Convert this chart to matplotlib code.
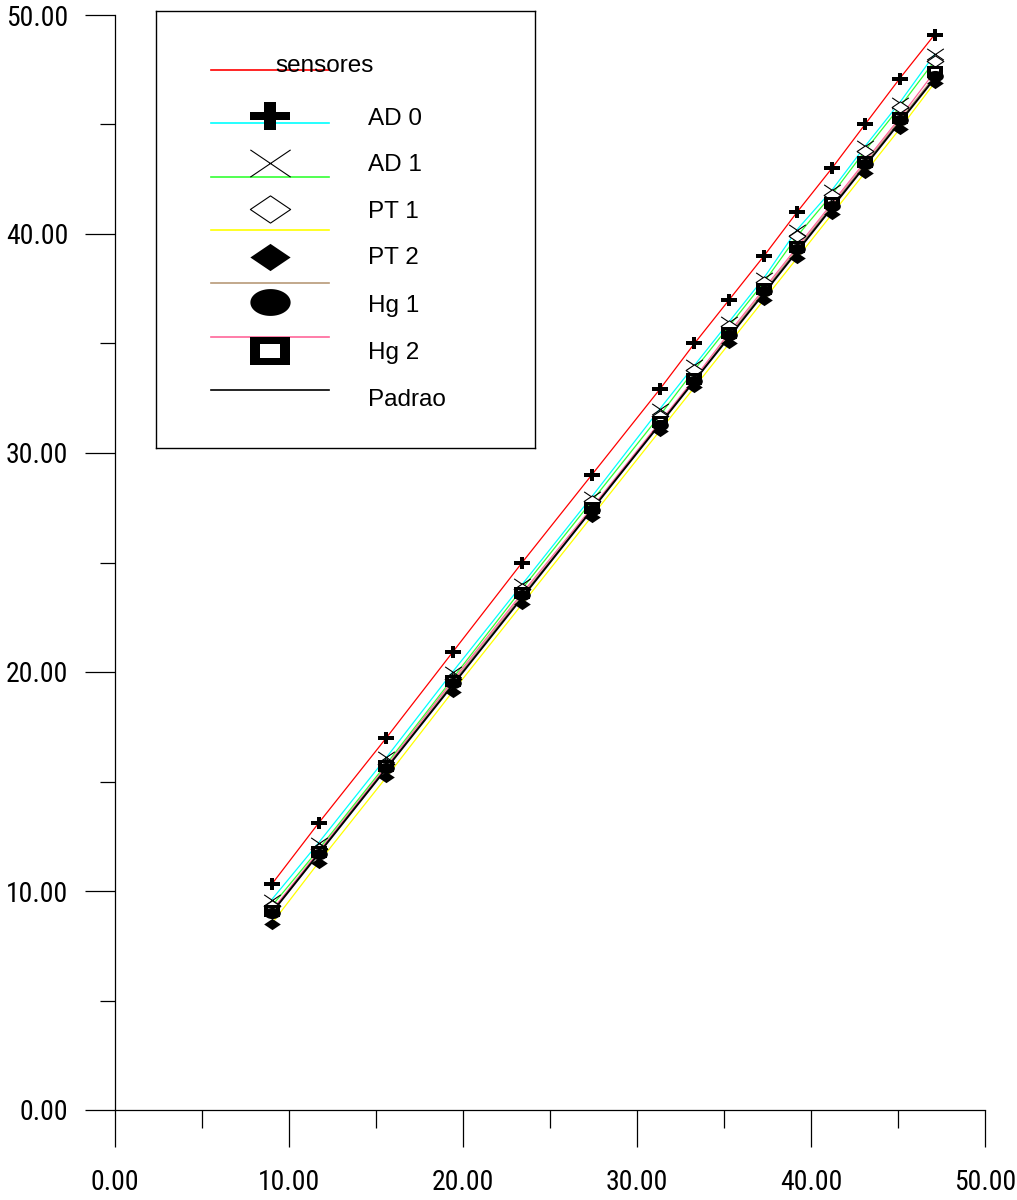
import numpy as np
import matplotlib
matplotlib.use("Agg")
from matplotlib import pyplot as plt
from matplotlib.path import Path
from matplotlib import font_manager

# readings of the reference (Padrao) and of each sensor
padrao = [9.0, 11.7, 15.6, 19.4, 23.4, 27.4, 31.3, 33.3, 35.3, 37.3, 39.2, 41.2, 43.1, 45.1, 47.1]
ad0 = [10.3, 13.1, 17.0, 20.9, 25.0, 29.0, 32.9, 35.0, 37.0, 39.0, 41.0, 43.0, 45.0, 47.1, 49.1]
ad1 = [9.6, 12.2, 16.1, 20.0, 24.0, 28.0, 32.0, 34.0, 36.0, 38.0, 40.2, 42.0, 44.0, 46.0, 48.2]
pt1 = [9.3, 11.9, 15.8, 19.7, 23.8, 27.8, 31.7, 33.8, 35.8, 37.8, 39.9, 41.8, 43.8, 45.8, 47.9]
pt2 = [8.5, 11.3, 15.2, 19.1, 23.1, 27.1, 31.0, 33.0, 35.0, 37.0, 38.9, 40.9, 42.8, 44.8, 46.9]
hg1 = [9.0, 11.7, 15.6, 19.5, 23.5, 27.4, 31.3, 33.3, 35.4, 37.4, 39.3, 41.3, 43.2, 45.2, 47.2]
hg2 = [9.1, 11.8, 15.7, 19.6, 23.6, 27.5, 31.4, 33.4, 35.5, 37.5, 39.4, 41.4, 43.3, 45.3, 47.4]

labels = ["AD 0", "AD 1", "PT 1", "PT 2", "Hg 1", "Hg 2", "Padrao"]
series = [ad0, ad1, pt1, pt2, hg1, hg2, padrao]
colors = ["#ff0000", "#00ffff", "#33ff33", "#ffff00", "#b89a78", "#ff6699", "#000000"]


def pick_font(names):
    for n in names:
        try:
            font_manager.findfont(n, fallback_to_default=False)
            return n
        except Exception:
            pass
    return "DejaVu Sans"


narrow = pick_font(["Liberation Sans Narrow", "Roboto Condensed", "DejaVu Sans"])
arial = pick_font(["Liberation Sans", "Arimo", "DejaVu Sans"])


# wide markers, like the old plotting program draws them (about 40 x 27)
def plus_marker():
    a, b = 0.71, 0.5    # half width / half height
    t, s = 0.15, 0.21   # half thickness of horizontal / vertical bar
    v = [(-a, -t), (-s, -t), (-s, -b), (s, -b), (s, -t), (a, -t), (a, t),
         (s, t), (s, b), (-s, b), (-s, t), (-a, t), (-a, -t)]
    return Path(v, closed=True)


def x_marker():
    a, b = 0.74, 0.5
    return Path([(-a, -b), (a, b), (-a, b), (a, -b)],
                [Path.MOVETO, Path.LINETO, Path.MOVETO, Path.LINETO])


def diamond_marker():
    a, b = 0.74, 0.5
    return Path([(-a, 0), (0, b), (a, 0), (0, -b), (-a, 0)], closed=True)


def ellipse_marker():
    t = np.linspace(0, 2 * np.pi, 60)
    return Path(np.column_stack([0.75 * np.cos(t), 0.5 * np.sin(t)]), closed=True)


def square_marker():
    a, b = 0.74, 0.5
    ia, ib = 0.35, 0.24
    outer = [(-a, -b), (a, -b), (a, b), (-a, b), (-a, -b)]
    inner = [(-ia, -ib), (-ia, ib), (ia, ib), (ia, -ib), (-ia, -ib)]
    codes = [Path.MOVETO] + [Path.LINETO] * 3 + [Path.CLOSEPOLY]
    return Path(outer + inner, codes * 2)


markers = [
    dict(marker=plus_marker(), mfc="black", mec="black", mew=0),
    dict(marker=x_marker(), mfc="none", mec="black", mew=0.8),
    dict(marker=diamond_marker(), mfc="white", mec="black", mew=0.8),
    dict(marker=diamond_marker(), mfc="black", mec="black", mew=0),
    dict(marker=ellipse_marker(), mfc="black", mec="black", mew=0),
    dict(marker=square_marker(), mfc="black", mec="black", mew=0),
    None,
]

figure = plt.figure(figsize=(10.17, 12), dpi=100)
ax = figure.add_axes([115 / 1017, 90 / 1200, 870 / 1017, 1095 / 1200])

for ys, c, m in zip(series, colors, markers):
    lw = 1.4 if c == "#000000" else 0.9
    ax.plot(padrao, ys, color=c, linewidth=lw, zorder=2)
    if m is not None:
        ax.plot(padrao, ys, linestyle="none", markersize=12, zorder=3, **m)

ax.set_xlim(0, 50)
ax.set_ylim(0, 50)
ax.spines["top"].set_visible(False)
ax.spines["right"].set_visible(False)
ax.spines["left"].set_linewidth(0.9)
ax.spines["bottom"].set_linewidth(0.9)
ax.set_xticks(np.arange(0, 51, 10))
ax.set_yticks(np.arange(0, 51, 10))
ax.set_xticks(np.arange(5, 50, 10), minor=True)
ax.set_yticks(np.arange(5, 50, 10), minor=True)
ax.set_xticklabels(["%.2f" % v for v in np.arange(0, 51, 10)])
ax.set_yticklabels(["%.2f" % v for v in np.arange(0, 51, 10)])
ax.tick_params(axis="x", which="major", direction="out", length=26.6, width=0.9, pad=16)
ax.tick_params(axis="x", which="minor", direction="out", length=13, width=0.9)
ax.tick_params(axis="y", which="major", direction="out", length=21.6, width=0.9, pad=12)
ax.tick_params(axis="y", which="minor", direction="out", length=10.8, width=0.9)
for lab in ax.get_xticklabels() + ax.get_yticklabels():
    lab.set_fontfamily(narrow)
    lab.set_fontsize(20)

# legend box drawn by hand, coordinates in pixels inside the box
leg = figure.add_axes([156 / 1017, 752 / 1200, 379 / 1017, 437 / 1200])
leg.set_xlim(0, 379)
leg.set_ylim(437, 0)
leg.set_xticks([])
leg.set_yticks([])
for sp in leg.spines.values():
    sp.set_linewidth(1.0)

line_rows = [59, 112, 166, 219, 272, 326, 379]
marker_rows = [105, 152, 198, 246, 291, 340]
text_rows = [114, 160.5, 207.5, 253.5, 301.5, 347.5, 395.5]

for yy, c in zip(line_rows, colors):
    leg.plot([55, 173], [yy, yy], color=c, linewidth=1.2)
for yy, m in zip(marker_rows, markers):
    leg.plot([114], [yy], linestyle="none", markersize=29, **m)
leg.text(119, 61, "sensores", fontsize=17.5, fontfamily=arial, va="baseline")
for yy, lab in zip(text_rows, labels):
    leg.text(212, yy, lab, fontsize=17.5, fontfamily=arial, va="baseline")

plt.savefig("out.png")
